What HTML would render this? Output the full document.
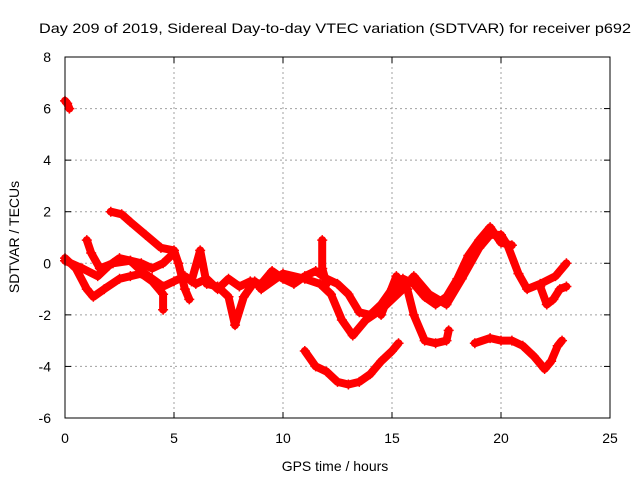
<!DOCTYPE html>
<html><head><meta charset="utf-8"><style>
body{margin:0;background:#fff;}
svg text{font-family:"Liberation Sans",sans-serif;font-size:14px;fill:#000;}
</style></head><body>
<svg id="chart" width="640" height="480" xmlns="http://www.w3.org/2000/svg">
<text x="335" y="33" text-anchor="middle" textLength="592" lengthAdjust="spacingAndGlyphs">Day 209 of 2019, Sidereal Day-to-day VTEC variation (SDTVAR) for receiver p692</text>
<text x="335" y="471" text-anchor="middle">GPS time / hours</text>
<text transform="translate(19,237) rotate(-90)" text-anchor="middle">SDTVAR / TECUs</text>
<g id="grid"></g>
<g id="ticks"></g>
<g id="series"></g>
<rect x="65" y="57" width="545" height="361" fill="none" stroke="#000" stroke-width="1"/>
</svg>
<script>
const xTicks=[0,5,10,15,20,25];
const yTicks=[-6,-4,-2,0,2,4,6,8];
const trace1=[[0,6.3],[0.1,6.2],[0.2,6.0]];
const trace2=[[2.1,2.0],[2.6,1.9],[3.0,1.6],[3.7,1.1],[4.4,0.6],[5.0,0.5],[5.2,0],[5.5,-1.0],[5.7,-1.4]];
const trace3=[[0,0.2],[0.5,-0.2],[1,-1.0],[1.3,-1.3],[1.8,-1.0],[2.5,-0.6],[3,-0.5],[3.5,-0.4],[4,-0.7],[4.5,-1.2],[4.5,-1.8]];
const trace4=[[0,0.1],[0.8,-0.2],[1.5,-0.5],[2,-0.1],[2.5,0.2],[3,0.1],[3.5,-0.3],[4,-0.6],[4.5,-0.9],[5,-0.7],[5.5,-0.5],[6,-0.8],[6.5,-0.6],[7,-1.0],[7.5,-0.6],[8,-0.9],[8.5,-0.7],[9,-0.8],[9.5,-0.3],[10,-0.6],[10.5,-0.8],[11,-0.5],[11.5,-0.3],[12,-0.6],[12.5,-0.8],[13,-1.2],[13.5,-1.9],[14,-2.0],[14.5,-1.6],[15,-1.0],[15.5,-0.6],[16,-0.8],[16.5,-1.3],[17,-1.6],[17.5,-1.3],[18,-0.6],[18.5,0.3],[19,0.9],[19.5,1.4],[20,0.8],[20.5,0.7]];
const trace5=[[1,0.9],[1.2,0.4],[1.6,-0.2],[2.2,0],[3,0.1],[3.5,0],[4,-0.2],[4.5,0],[5,0.4]];
const trace6=[[9,-1.0],[10,-0.4],[11,-0.6],[11.7,-0.8],[12.2,-1.2],[12.7,-2.2],[13.2,-2.8],[13.8,-2.2],[14.5,-1.8],[15.5,-1.0],[16,-0.5],[16.7,-1.2],[17.5,-1.6],[18.2,-0.6],[19,0.6],[19.5,1.1],[20,1.1],[20.3,0.7],[20.8,-0.4],[21.2,-1.0],[21.8,-0.8],[22.5,-0.5],[23,0]];
const trace7=[[14.5,-2.0],[15.2,-0.5],[15.7,-1.0],[16,-2.0],[16.5,-3.0],[17,-3.1],[17.5,-3.0],[17.6,-2.6]];
const trace8=[[11,-3.4],[11.5,-4.0],[12,-4.2],[12.5,-4.6],[13,-4.7],[13.5,-4.6],[14,-4.3],[14.5,-3.8],[15,-3.4],[15.3,-3.1]];
const trace9=[[18.8,-3.1],[19.5,-2.9],[20,-3.0],[20.5,-3.0],[21,-3.2],[21.5,-3.6],[22,-4.1],[22.3,-3.8],[22.6,-3.2],[22.8,-3.0]];
const trace10=[[21.8,-0.9],[22.1,-1.6],[22.4,-1.4],[22.7,-1.0],[23,-0.9]];
const trace11=[[5.8,-0.7],[6.2,0.5],[6.5,-0.8],[7,-0.9],[7.5,-1.3],[7.8,-2.4],[8.2,-1.3],[8.7,-0.7],[9,-1.0]];
const trace12=[[11.8,0.9],[11.8,-0.2],[12,-0.8]];
const traces=[trace1,trace2,trace3,trace4,trace5,trace6,trace7,trace8,trace9,trace10,trace11,trace12];

const X0=65,X1=610,Y0=418,Y1=57;
const xs=t=>X0+(t-0)/(25-0)*(X1-X0);
const ys=v=>Y0-(v+6)/(14)*(Y0-Y1);
const NS='http://www.w3.org/2000/svg';
const grid=document.getElementById('grid'),ticks=document.getElementById('ticks'),ser=document.getElementById('series');
function mk(tag,attrs,parent){const e=document.createElementNS(NS,tag);for(const k in attrs)e.setAttribute(k,attrs[k]);parent.appendChild(e);return e;}
xTicks.forEach(t=>{const x=xs(t);
 if(t>0&&t<25){const g=mk('line',{x1:x,x2:x,y1:Y1,y2:Y0,stroke:'#a0a0a0','stroke-dasharray':'2,3'},grid);
 
 }
 const a=mk('line',{x1:x,x2:x,y1:Y0,y2:Y0-6,stroke:'#000'},ticks);
 
 
 mk('line',{x1:x,x2:x,y1:Y1,y2:Y1+6,stroke:'#000'},ticks);
 const l=mk('text',{x:x,y:443,'text-anchor':'middle'},ticks);l.textContent=t;
 
 
});
yTicks.forEach(v=>{const y=ys(v);
 if(v>-6&&v<8){const g=mk('line',{x1:X0,x2:X1,y1:y,y2:y,stroke:'#a0a0a0','stroke-dasharray':'2,3'},grid);
 
 }
 const a=mk('line',{x1:X0,x2:X0+6,y1:y,y2:y,stroke:'#000'},ticks);
 
 
 mk('line',{x1:X1,x2:X1-6,y1:y,y2:y,stroke:'#000'},ticks);
 const l=mk('text',{x:51,y:y+5,'text-anchor':'end'},ticks);l.textContent=v;
 
 
});
traces.forEach((tr,i)=>{
 const pts=tr.map(p=>xs(p[0]).toFixed(1)+','+ys(p[1]).toFixed(1)).join(' ');
 const pl=mk('polyline',{points:pts,fill:'none',stroke:'#ff0000','stroke-width':8,'stroke-linejoin':'round','stroke-linecap':'round'},ser);
 
 
 tr.forEach(p=>{const x=xs(p[0]),y=ys(p[1]);
  const m=mk('path',{d:`M${x-5},${y}h10M${x},${y-5}v10`,stroke:'#ff0000','stroke-width':1.5},ser);
  
  
 });
});
</script>
</body></html>
